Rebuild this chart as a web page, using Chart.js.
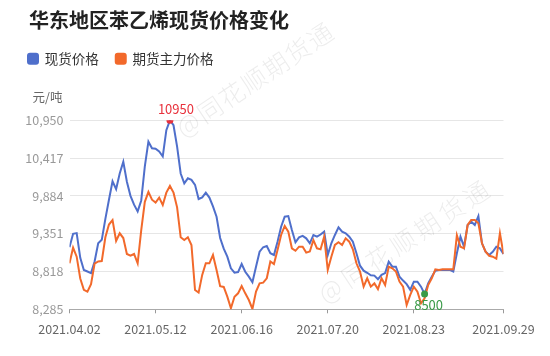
<!DOCTYPE html>
<html><head><meta charset="utf-8">
<script src="https://cdn.jsdelivr.net/npm/chart.js@4/dist/chart.umd.min.js"></script>
<style>html,body{margin:0;padding:0;background:#fff;}</style>
</head><body>
<canvas id="c" width="550" height="356"></canvas>
<script>
const chartTitle = '华东地区苯乙烯现货价格变化';
const unitLabel = '元/吨';
const seriesNames = ['现货价格', '期货主力价格'];
const tickLabels = ['2021.04.02','2021.05.12','2021.06.16','2021.07.20','2021.08.23','2021.09.29'];
const tickIndex = [0, 24, 48, 72, 96, 121];
const yTicks = [8285, 8818, 9351, 9884, 10417, 10950];
const spot = [
9160,9350,9360,9010,8840,8818,8795,8960,9216,9265,
9560,9830,10090,9980,10200,10366,10084,9885,9760,9665,
9820,10300,10648,10555,10550,10510,10440,10810,10950,10880,
10580,10200,10062,10132,10110,10040,9840,9862,9930,9860,
9735,9590,9290,9140,9027,8863,8801,8810,8924,8815,
8745,8666,8886,9097,9160,9178,9075,9051,9239,9450,
9591,9600,9403,9230,9300,9320,9286,9216,9333,9309,
9340,9380,9051,9216,9333,9441,9380,9356,9309,9239,
9075,8900,8830,8800,8765,8760,8710,8770,8795,8956,
8886,8886,8745,8690,8640,8560,8675,8675,8604,8500,
8651,8745,8830,8840,8840,8840,8840,8818,9075,9309,
9168,9474,9521,9474,9600,9216,9097,9051,9097,9168,
9144,9065];
const futures = [
8934,9154,9027,8720,8560,8535,8640,8930,8960,8965,
9300,9480,9544,9250,9357,9290,9065,9040,9065,8934,
9400,9800,9940,9830,9790,9860,9756,9930,10024,9930,
9723,9300,9262,9300,9192,8557,8520,8770,8934,8934,
9051,8840,8610,8600,8463,8300,8463,8510,8614,8510,
8416,8290,8534,8651,8660,8722,8960,8924,9121,9333,
9460,9380,9145,9110,9168,9168,9084,9100,9262,9145,
9130,9309,8840,9027,9192,9230,9192,9286,9239,9130,
8934,8816,8604,8722,8604,8650,8570,8722,8627,8886,
8863,8818,8675,8604,8346,8487,8604,8534,8370,8440,
8627,8722,8849,8840,8850,8849,8849,8849,9330,9168,
9145,9474,9544,9544,9497,9216,9097,9040,9027,9000,
9357,9065];
const maxMark = {index: 28, value: 10950, text: '10950'};
const minMark = {index: 99, value: 8500, text: '8500'};
const watermark = '@同花顺期货通';

const FONT = '"Noto Sans CJK SC","Noto Sans",sans-serif';
const BLUE = '#4f6fcb';
const ORANGE = '#f2692b';
const RED = '#e8313c';
const GREEN = '#3a9a48';

const overlay = {
  id: 'overlay',
  beforeDatasetsDraw(chart) {
    const ctx = chart.ctx;
    ctx.save();
    ctx.fillStyle = 'rgba(0,0,0,0.075)';
    ctx.font = '300 25px ' + FONT;
    ctx.textAlign = 'center';
    ctx.textBaseline = 'middle';
    const drawWM = (x0, y0, x1, y1) => {
      const chars = Array.from(watermark);
      const ang = Math.atan2(y1 - y0, x1 - x0);
      chars.forEach((ch, k) => {
        const t = k / (chars.length - 1);
        ctx.save();
        ctx.translate(x0 + (x1 - x0) * t, y0 + (y1 - y0) * t);
        ctx.rotate(ang);
        ctx.fillText(ch, 0, 0);
        ctx.restore();
      });
    };
    drawWM(188, 124, 320, 36);
    drawWM(330, 290, 476, 194);
    ctx.restore();
  },
  afterDraw(chart) {
    const ctx = chart.ctx;
    const xs = chart.scales.x, ys = chart.scales.y;
    ctx.save();
    ctx.textBaseline = 'middle';
    ctx.fillStyle = '#222';
    ctx.font = 'bold 20px ' + FONT;
    ctx.textAlign = 'left';
    ctx.fillText(chartTitle, 29, 20.5);
    ctx.fillStyle = '#666';
    ctx.font = '12.5px ' + FONT;
    ctx.textAlign = 'right';
    ctx.fillText(unitLabel, 62.5, 97.5);
    ctx.textAlign = 'center';
    ctx.font = '13px ' + FONT;
    ctx.fillStyle = RED;
    ctx.fillText(maxMark.text, xs.getPixelForValue(maxMark.index) + 6, ys.getPixelForValue(maxMark.value) - 11.5);
    ctx.fillStyle = GREEN;
    ctx.fillText(minMark.text, xs.getPixelForValue(minMark.index) + 4, ys.getPixelForValue(minMark.value) + 11.5);
    ctx.restore();
  }
};

new Chart(document.getElementById('c'), {
  type: 'line',
  data: {
    datasets: [
      { label: seriesNames[0], data: spot.map((v, i) => ({x: i, y: v})), borderColor: BLUE, backgroundColor: BLUE,
        borderWidth: 2, pointRadius: 0, tension: 0, order: 2 },
      { label: seriesNames[1], data: futures.map((v, i) => ({x: i, y: v})), borderColor: ORANGE, backgroundColor: ORANGE,
        borderWidth: 2, pointRadius: 0, tension: 0, order: 1 },
      { label: 'max', data: [{x: maxMark.index, y: maxMark.value}], showLine: false, pointRadius: 3.5,
        pointBackgroundColor: RED, pointBorderWidth: 0, borderColor: RED, order: 0 },
      { label: 'min', data: [{x: minMark.index, y: minMark.value}], showLine: false, pointRadius: 3.5,
        pointBackgroundColor: GREEN, pointBorderWidth: 0, borderColor: GREEN, order: 0 }
    ]
  },
  options: {
    responsive: false,
    animation: false,
    layout: { padding: { top: 35, left: 11, right: 46.5, bottom: 0 } },
    plugins: {
      legend: {
        display: true, position: 'top', align: 'start', weight: 1000,
        labels: {
          filter: (item) => seriesNames.includes(item.text),
          sort: (a, b) => a.datasetIndex - b.datasetIndex,
          boxWidth: 10, boxHeight: 10, useBorderRadius: true, borderRadius: 2,
          padding: 17, color: '#333', font: { family: FONT, size: 13.5 }
        }
      },
      title: { display: true, text: '', weight: 500, font: { size: 10 }, padding: { top: 0, bottom: 32.8 } },
      tooltip: { enabled: false }
    },
    scales: {
      x: {
        type: 'linear', min: 0, max: tickIndex[tickIndex.length - 1],
        afterBuildTicks: (s) => { s.ticks = tickIndex.map(v => ({value: v})); },
        afterFit: (s) => { s.height = 46.7; },
        ticks: {
          autoSkip: false, maxRotation: 0, color: '#666', padding: 8,
          font: { family: FONT, size: 12.5 },
          callback: (v) => { const k = tickIndex.indexOf(v); return k >= 0 ? tickLabels[k] : null; }
        },
        grid: { drawOnChartArea: false, drawTicks: true, tickLength: 4, tickColor: '#999', color: '#999' },
        border: { display: true, color: '#aaa', width: 1 }
      },
      y: {
        min: yTicks[0], max: yTicks[yTicks.length - 1],
        afterBuildTicks: (s) => { s.ticks = yTicks.map(v => ({value: v})); },
        afterFit: (s) => { s.width = 58.5; },
        ticks: {
          color: '#999', padding: 6, font: { family: FONT, size: 12.5 },
          callback: (v) => v.toLocaleString('en-US')
        },
        grid: { color: '#e6e6e6', drawTicks: false },
        border: { display: false }
      }
    }
  },
  plugins: [overlay]
});
</script>
</body></html>
